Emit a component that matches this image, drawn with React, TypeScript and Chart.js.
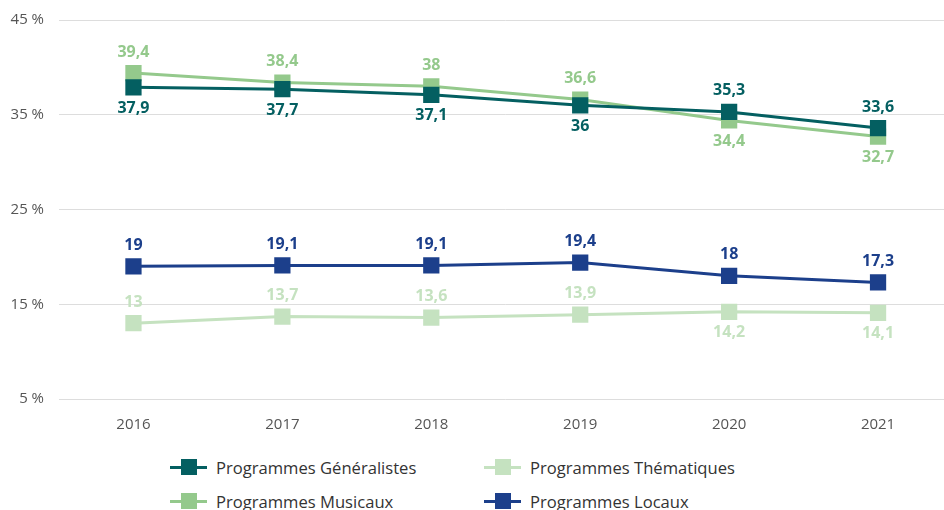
import React, { useEffect, useRef } from "react";
import { Chart, registerables } from "chart.js";

Chart.register(...registerables);

const years = ["2016", "2017", "2018", "2019", "2020", "2021"];
const generalistes = [37.9, 37.7, 37.1, 36, 35.3, 33.6];
const musicaux = [39.4, 38.4, 38, 36.6, 34.4, 32.7];
const thematiques = [13, 13.7, 13.6, 13.9, 14.2, 14.1];
const locaux = [19, 19.1, 19.1, 19.4, 18, 17.3];
const yTicks = [5, 15, 25, 35, 45];

// label placement: 1 = above, -1 = below
const generalistesPos = [-1, -1, -1, -1, 1, 1];
const musicauxPos = [1, 1, 1, 1, -1, -1];
const thematiquesPos = [1, 1, 1, 1, -1, -1];
const locauxPos = [1, 1, 1, 1, 1, 1];

const C_GEN = "#045f61";
const C_MUS = "#94c98c";
const C_THE = "#c5e2c0";
const C_LOC = "#1c3f8b";

const FONT = "'Open Sans', 'Noto Sans', sans-serif";

const fmt = (v: number) => String(v).replace(".", ",");

const labelPlugin = {
  id: "valueLabels",
  afterDatasetsDraw(chart: any) {
    const ctx = chart.ctx;
    ctx.save();
    ctx.font = `bold 16px ${FONT}`;
    ctx.textAlign = "center";
    ctx.textBaseline = "middle";
    chart.data.datasets.forEach((ds: any, i: number) => {
      const meta = chart.getDatasetMeta(i);
      meta.data.forEach((pt: any, j: number) => {
        const dir = ds.labelPos[j];
        ctx.fillStyle = ds.borderColor;
        ctx.fillText(fmt(ds.data[j]), pt.x, pt.y - dir * 21);
      });
    });
    ctx.restore();
  },
};

const legendItems = [
  { label: "Programmes Généralistes", color: C_GEN, left: 170, top: 467 },
  { label: "Programmes Thématiques", color: C_THE, left: 484, top: 467 },
  { label: "Programmes Musicaux", color: C_MUS, left: 170, top: 501 },
  { label: "Programmes Locaux", color: C_LOC, left: 484, top: 501 },
];

export default function App() {
  const ref = useRef<HTMLCanvasElement>(null);

  useEffect(() => {
    document.body.style.margin = "0";
    document.body.style.overflow = "hidden";
    const mk = (label: string, data: number[], color: string, pos: number[]) => ({
      label,
      data,
      labelPos: pos,
      borderColor: color,
      backgroundColor: color,
      pointBackgroundColor: color,
      pointBorderColor: color,
      borderWidth: 3,
      pointStyle: "rect",
      pointRadius: 11.5,
      pointBorderWidth: 0,
      tension: 0,
    });
    const chart = new Chart(ref.current!, {
      type: "line",
      data: {
        labels: years,
        datasets: [
          mk("Programmes Généralistes", generalistes, C_GEN, generalistesPos),
          mk("Programmes Locaux", locaux, C_LOC, locauxPos),
          mk("Programmes Musicaux", musicaux, C_MUS, musicauxPos),
          mk("Programmes Thématiques", thematiques, C_THE, thematiquesPos),
        ] as any,
      },
      options: {
        animation: false,
        responsive: false,
        layout: { padding: { top: 12, right: 0, bottom: 0, left: 0 } },
        plugins: { legend: { display: false }, tooltip: { enabled: false } },
        scales: {
          x: {
            offset: true,
            grid: { display: false },
            border: { display: false },
            ticks: { color: "#555", font: { family: FONT, size: 15 }, padding: 9 },
            afterFit: (s: any) => {
              s.height = 41;
            },
          },
          y: {
            min: 5,
            max: 45,
            afterBuildTicks: (s: any) => {
              s.ticks = yTicks.map((v) => ({ value: v }));
            },
            grid: { color: "#dddddd", lineWidth: 1, drawTicks: false },
            border: { display: false },
            ticks: {
              color: "#555",
              font: { family: FONT, size: 15 },
              padding: 15,
              callback: (v: any) => `${v} %`,
            },
            afterFit: (s: any) => {
              s.width = 59;
            },
          },
        },
      } as any,
      plugins: [labelPlugin],
    });
    return () => chart.destroy();
  }, []);

  return (
    <div style={{ position: "relative", width: 964, height: 510, overflow: "hidden", fontFamily: FONT }}>
      <canvas ref={ref} width={964} height={444} style={{ display: "block", marginTop: -4 }} />
      {legendItems.map((it) => (
        <div
          key={it.label}
          style={{ position: "absolute", left: it.left, top: it.top - 12, height: 24, display: "flex", alignItems: "center" }}
        >
          <div style={{ position: "relative", width: 37, height: 24 }}>
            <div style={{ position: "absolute", left: 0, top: 10.5, width: 37, height: 3, background: it.color }} />
            <div style={{ position: "absolute", left: 11, top: 4, width: 16, height: 16, background: it.color }} />
          </div>
          <span style={{ marginLeft: 9, fontSize: 16.6, color: "#333", whiteSpace: "nowrap" }}>{it.label}</span>
        </div>
      ))}
    </div>
  );
}
